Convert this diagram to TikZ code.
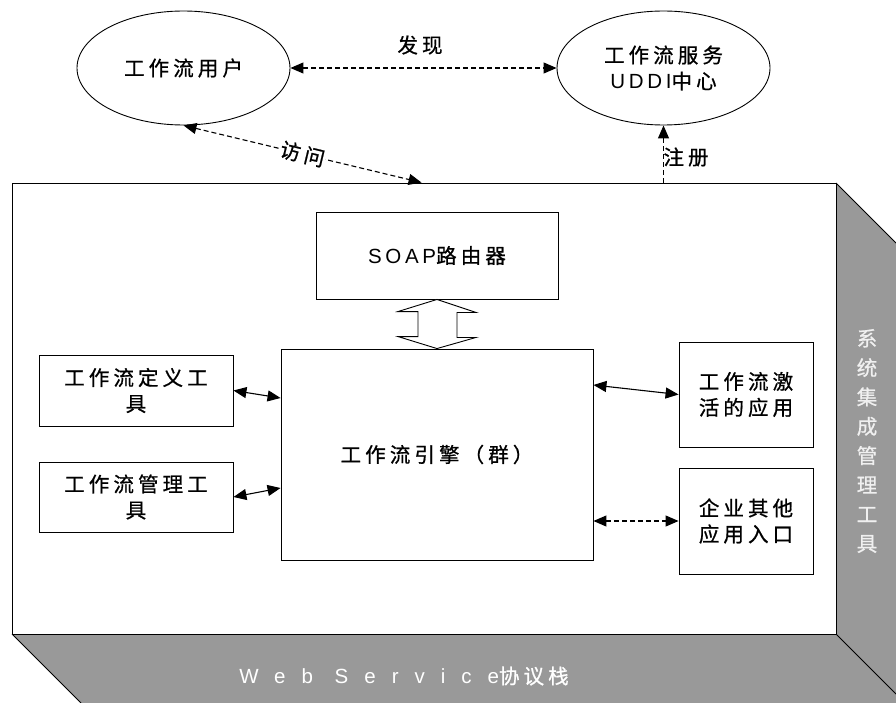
\documentclass[tikz,border=0pt]{standalone}
\usepackage{fontspec}
\setmainfont[LetterSpace=20,FakeBold=0.8]{Noto Sans CJK SC}
\newfontfamily\lat[LetterSpace=18]{Liberation Sans}
\newfontfamily\latw[LetterSpace=78]{Liberation Sans}
\usetikzlibrary{shapes.geometric,arrows.meta,calc}
\definecolor{sidegray}{HTML}{999999}
\begin{document}
\begin{tikzpicture}[x=1pt,y=-1pt,
  txt/.style={font=\fontsize{20.5}{26}\selectfont,align=center,inner sep=0pt},
  box/.style={txt,draw=black,line width=0.9pt,fill=white},
  ell/.style={txt,ellipse,draw=black,line width=0.9pt,minimum width=213pt,minimum height=114pt},
  arr/.style={line width=1.1pt,{Triangle[length=13pt,width=11pt]}-{Triangle[length=13pt,width=11pt]}},
  dsh/.style={dash pattern=on 5pt off 3pt}
]
\useasboundingbox (0,0) rectangle (896,703);
% 3D box
\fill[sidegray] (836,183) -- (896,243) -- (896,703) -- (81,703) -- (12,634) -- (836,634) -- cycle;
\draw[line width=0.9pt] (836,183) -- (896,243);
\draw[line width=0.9pt] (12,634) -- (81,703);
\draw[line width=0.9pt] (836,634) -- (896,694);
\node[draw=black,line width=0.9pt,fill=white,minimum width=824pt,minimum height=451pt,inner sep=0pt] (front) at (424,408.5) {};
\node[txt,text=white] (proto) at (404,676) {{\latw Web Service}协议栈};
\node[txt,text=white!94!black,font=\fontsize{20.5}{29.3}\selectfont] (sysint) at (867,441) {系\\统\\集\\成\\管\\理\\工\\具};

% ellipses
\node[ell] (user) at (183.5,68) {工作流用户};
\node[ell] (uddi) at (663.5,68) {工作流服务\\{\lat UDDI}中心};

% boxes
\node[box,minimum width=242pt,minimum height=87pt] (soap) at (437,255.5) {{\lat SOAP}路由器};
\node[box,minimum width=312pt,minimum height=211pt] (eng) at (437,454.5) {工作流引擎（群）};
\node[box,minimum width=194pt,minimum height=71pt] (def) at (136,390.5) {工作流定义工\\具};
\node[box,minimum width=194pt,minimum height=70pt] (mgmt) at (136,497) {工作流管理工\\具};
\node[box,minimum width=134pt,minimum height=105pt] (act) at (746,394.5) {工作流激\\活的应用};
\node[box,minimum width=134pt,minimum height=106pt] (ent) at (746,521) {企业其他\\应用入口};

% connectors
\draw[arr,dsh] (user.east) -- (uddi.west);
\node[txt] (find) at (420,45) {发现};
\draw[arr,dsh] (user.south) -- node[midway,sloped,fill=white,txt,inner sep=1pt] (visit) {访问} ([xshift=410pt]front.north west);
\draw[line width=1.1pt,dsh,-{Triangle[length=13pt,width=11pt]}] (uddi.south |- front.north) -- (uddi.south);
\node[txt] (reg) at (686,157) {注册};

\draw[line width=0.9pt,fill=white] (soap.south) -- ++(39,13) -- ++(-19,0) -- ++(0,25) -- ++(19,0) -- (eng.north) -- ++(-39,-12) -- ++(20,0) -- ++(0,-25) -- ++(-20,0) -- cycle;

\draw[arr] (def.east) -- ($(eng.west)+(0,-56.5)$);
\draw[arr] (mgmt.east) -- ($(eng.west)+(0,33.5)$);
\draw[arr] ($(eng.east)+(0,-69.5)$) -- (act.west);
\draw[arr,dsh] ($(eng.east)+(0,66.5)$) -- (ent.west);
\end{tikzpicture}
\end{document}
